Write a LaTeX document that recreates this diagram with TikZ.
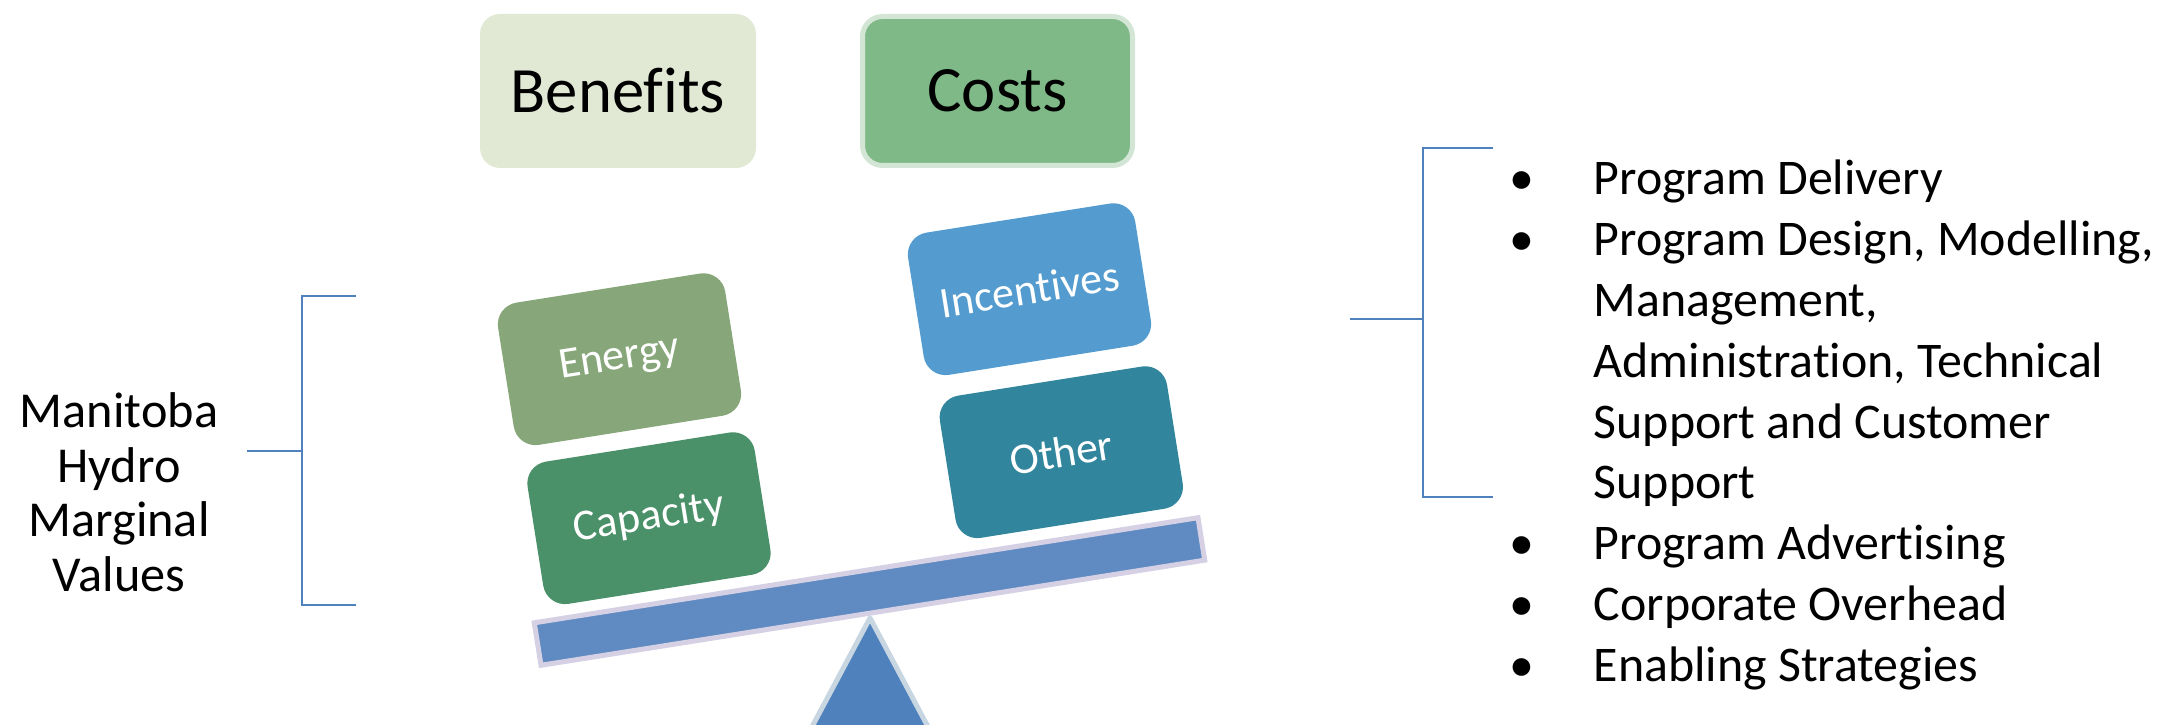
\documentclass[tikz,border=0pt]{standalone}
\usepackage{fontspec}
\setmainfont{Carlito}[Ligatures={NoCommon,NoRequired,NoContextual}]
\definecolor{benfill}{HTML}{E1E9D5}
\definecolor{costfill}{HTML}{7EB987}
\definecolor{costedge}{HTML}{D3E6D6}
\definecolor{energyc}{HTML}{87A77A}
\definecolor{capac}{HTML}{4A9068}
\definecolor{incent}{HTML}{549CCF}
\definecolor{otherc}{HTML}{31859C}
\definecolor{beamfill}{HTML}{5F8BC2}
\definecolor{beamedge}{HTML}{D5D0E3}
\definecolor{trifill}{HTML}{4F81BD}
\definecolor{triedge}{HTML}{C8D6E2}
\definecolor{brack}{HTML}{4F81BD}
\tikzset{
  topbox/.style={rounded corners=2mm, inner sep=0pt, font=\fontsize{18.4}{22}\selectfont},
  tiltbox/.style={rotate=9, rounded corners=2.2mm, minimum width=23mm, minimum height=14.4mm,
    inner sep=0pt, text=white, font=\fontsize{12.5}{15}\selectfont},
  bracketline/.style={draw=brack, line width=0.2mm},
  lefttext/.style={anchor=base, inner sep=0pt, font=\fontsize{14.3}{16}\selectfont},
  listtext/.style={anchor=base west, inner sep=0pt, font=\fontsize{14.2}{17}\selectfont},
  bulletmark/.style={anchor=base, inner sep=0pt, font=\fontsize{14.2}{17}\selectfont}
}
\begin{document}
\begin{tikzpicture}[x=0.1mm, y=-0.1mm]
\useasboundingbox (0,0) rectangle (2168,725);
% fulcrum
\begin{scope}
\clip (0,0) rectangle (2168,725);
\coordinate (apex) at (870,618);
\coordinate (tl) at (773,800);
\coordinate (tr) at (967,800);
\draw[fill=trifill, draw=triedge, line width=0.5mm, line join=round] (apex) -- (tr) -- (tl) -- cycle;
\end{scope}
% beam
\node[rotate=9, minimum width=67.2mm, minimum height=4.3mm, inner sep=0pt,
  fill=beamfill, draw=beamedge, line width=0.5mm] (beam) at (869.5,591.5) {};
% top boxes
\node[topbox, fill=benfill, minimum width=27.6mm, minimum height=15.4mm] (benefits) at (618,91) {Benefits};
\node[topbox, fill=costfill, draw=costedge, line width=0.5mm, minimum width=27mm, minimum height=14.9mm] (costs) at (997.5,91) {Costs};
% weights
\node[tiltbox, fill=energyc] (energy) at (619.5,359.2) {Energy};
\node[tiltbox, fill=capac] (capacity) at (649,518.2) {Capacity};
\node[tiltbox, fill=incent] (incentives) at (1029.5,289.2) {Incentives};
\node[tiltbox, fill=otherc] (other) at (1061.3,452.2) {Other};
% left label and bracket
\node[lefttext] (l1) at (119,428) {Manitoba};
\node[lefttext] (l2) at (119,482.5) {Hydro};
\node[lefttext] (l3) at (119,537) {Marginal};
\node[lefttext] (l4) at (119,591.5) {Values};
\coordinate (lm0) at (247,451.5);
\coordinate (lm1) at (302,451.5);
\coordinate (lt0) at (356,296);
\coordinate (lt1) at (302,296);
\coordinate (lb1) at (302,605);
\coordinate (lb0) at (356,605);
\draw[bracketline] (lm0) -- (lm1);
\draw[bracketline] (lt0) -- (lt1) -- (lb1) -- (lb0);
% right bracket
\coordinate (rm0) at (1349.5,319);
\coordinate (rm1) at (1423,319);
\coordinate (rt0) at (1493,148);
\coordinate (rt1) at (1423,148);
\coordinate (rb1) at (1423,497);
\coordinate (rb0) at (1493,497);
\draw[bracketline] (rm0) -- (rm1);
\draw[bracketline] (rt0) -- (rt1) -- (rb1) -- (rb0);
% right list
\node[bulletmark] (b1) at (1522,195) {•};
\node[listtext] (t1) at (1593,195) {Program Delivery};
\node[bulletmark] (b2) at (1522,255.8) {•};
\node[listtext] (t2a) at (1593,255.8) {Program Design, Modelling,};
\node[listtext] (t2b) at (1593,316.6) {Management,};
\node[listtext] (t2c) at (1593,377.4) {Administration, Technical};
\node[listtext] (t2d) at (1593,438.2) {Support and Customer};
\node[listtext] (t2e) at (1593,499) {Support};
\node[bulletmark] (b3) at (1522,559.8) {•};
\node[listtext] (t3) at (1593,559.8) {Program Advertising};
\node[bulletmark] (b4) at (1522,620.6) {•};
\node[listtext] (t4) at (1593,620.6) {Corporate Overhead};
\node[bulletmark] (b5) at (1522,681.4) {•};
\node[listtext] (t5) at (1593,681.4) {Enabling Strategies};
\end{tikzpicture}
\end{document}
